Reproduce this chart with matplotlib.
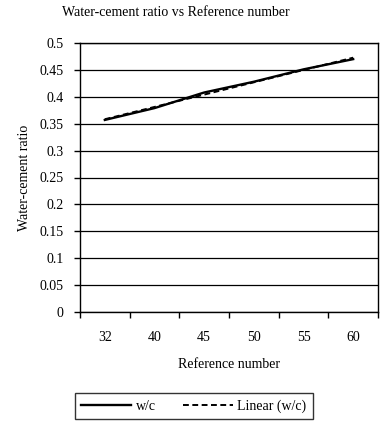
import numpy as np
import matplotlib.pyplot as plt

categories = ['32', '40', '45', '50', '55', '60']
wc = [0.357, 0.379, 0.408, 0.428, 0.451, 0.470]
yticks = [0, 0.05, 0.1, 0.15, 0.2, 0.25, 0.3, 0.35, 0.4, 0.45, 0.5]
ytick_labels = ['0', '0.05', '0.1', '0.15', '0.2', '0.25', '0.3', '0.35', '0.4', '0.45', '0.5']

plt.rcParams['font.family'] = ['Liberation Serif', 'DejaVu Serif']
plt.rcParams['font.size'] = 10

fig = plt.figure(figsize=(3.86, 4.25), dpi=100)
ax = fig.add_axes([80/386, 1 - 312/425, 298/386, 269/425])

x = np.arange(len(categories))
# excel-style linear trend over category index 1..n
k, b = np.polyfit(x + 1, wc, 1)
trend = k * (x + 1) + b

ax.plot(x, wc, color='black', lw=1.7, label='w/c')
ax.plot(x, trend, color='black', lw=1.4, ls=(0, (3, 1.8)), label='Linear (w/c)')

ax.set_ylim(0, 0.5)
ax.set_yticks(yticks)
ax.set_yticklabels(ytick_labels)
ax.yaxis.grid(True, color='black', lw=0.9)
ax.set_axisbelow(True)

ax.set_xlim(-0.5, len(categories) - 0.5)
ax.set_xticks(np.arange(len(categories) + 1) - 0.5)
ax.set_xticklabels([])
ax.set_xticks(x, minor=True)
ax.set_xticklabels(categories, minor=True)
ax.tick_params(axis='x', which='minor', length=0, pad=14)
ax.tick_params(axis='x', which='major', length=4, width=1)
ax.tick_params(axis='y', length=4, width=1, pad=8)

for s in ax.spines.values():
    s.set_linewidth(1)

ax.set_xlabel('Reference number', labelpad=10)
ax.set_ylabel('Water-cement ratio', labelpad=6)
fig.text(176/386, 1 - 12/425, 'Water-cement ratio vs Reference number',
         ha='center', va='center')

leg = fig.legend(loc='center', bbox_to_anchor=(194/386, 1 - 406/425), ncol=2,
                 frameon=True, fancybox=False, edgecolor='black',
                 handlelength=3.6, handletextpad=0.3, columnspacing=2.0,
                 borderpad=0.45, borderaxespad=0)
leg.get_frame().set_linewidth(1)

fig.savefig('out.png', dpi=100)
